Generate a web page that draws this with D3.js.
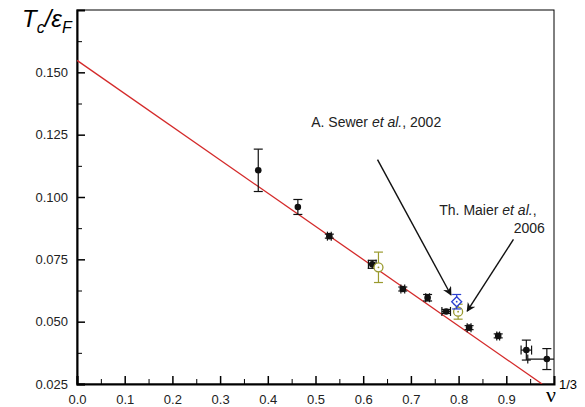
<html>
<head>
<script src="https://d3js.org/d3.v7.min.js"></script>
<style>
body { margin: 0; background: white; }
text { font-family: "Liberation Sans", Arial, sans-serif; }
</style>
</head>
<body>
<svg id="chart" width="585" height="407"></svg>
<script>
// measured points (nu^(1/3), Tc/eF)
var nu    = [0.380, 0.463, 0.529, 0.619, 0.683, 0.735, 0.774, 0.822, 0.883, 0.942, 0.985];
var tc    = [0.1107, 0.0960, 0.0843, 0.0730, 0.0631, 0.0596, 0.0541, 0.0476, 0.0443, 0.0386, 0.0350];
var tcErr = [0.0085, 0.0030, 0.0008, 0.0016, 0.0008, 0.0013, 0.0008, 0.0008, 0.0008, 0.0040, 0.0042];
var nuErr = [0, 0, 0.004, 0.008, 0.004, 0.004, 0.009, 0.004, 0.003, 0.011, 0.040];

// Maier et al. (olive) and Sewer et al. (blue)
var maierNu = [0.632, 0.799];
var maierTc = [0.0718, 0.0540];
var maierErr = [0.0061, 0.0030];
var sewerNu = [0.796];
var sewerTc = [0.0580];
var sewerErr = [0.0029];

// linear fit
var fitNu = [0, 0.975];
var fitTc = [0.1548, 0.025];

var xTicks = [0, 0.1, 0.2, 0.3, 0.4, 0.5, 0.6, 0.7, 0.8, 0.9];
var xTickLabels = ["0.0","0.1","0.2","0.3","0.4","0.5","0.6","0.7","0.8","0.9"];
var yTicks = [0.025, 0.05, 0.075, 0.1, 0.125, 0.15];
var yTickLabels = ["0.025","0.050","0.075","0.100","0.125","0.150"];

function draw() {
  var mLeft = 77, mRight = 554, mTop = 10, mBottom = 384;
  var x = d3.scaleLinear().domain([0, 1]).range([mLeft, mRight]);
  var y = d3.scaleLinear().domain([0.025, 0.175]).range([mBottom, mTop]);

  var svg = d3.select("#chart");

  svg.append("clipPath").attr("id", "clip")
    .append("rect").attr("x", mLeft).attr("y", mTop)
    .attr("width", mRight - mLeft).attr("height", mBottom - mTop);

  // frame
  svg.append("rect")
    .attr("x", mLeft).attr("y", mTop)
    .attr("width", mRight - mLeft).attr("height", mBottom - mTop)
    .attr("fill", "none").attr("stroke", "black").attr("stroke-width", 1);

  // axes (ticks pointing inward)
  var xMinor = d3.range(0.05, 1.0, 0.1);
  svg.append("g")
    .attr("transform", "translate(0," + mBottom + ")")
    .call(d3.axisTop(x).tickValues(xMinor).tickSize(5).tickFormat(""))
    .call(function(g) { g.select(".domain").remove(); });
  var xg = svg.append("g")
    .attr("transform", "translate(0," + mBottom + ")")
    .call(d3.axisTop(x).tickValues(xTicks).tickSize(8).tickFormat(function(d, i) { return xTickLabels[i]; }));
  xg.select(".domain").attr("stroke-width", 2);
  xg.selectAll("line").attr("stroke-width", 1.5);
  xg.selectAll("text").attr("y", 15).attr("dy", "0.35em")
    .style("font-size", "13px").attr("fill", "#222")
    .style("font-family", "'Liberation Sans', Arial, sans-serif");

  var yMinor = d3.range(0.0375, 0.175, 0.025);
  svg.append("g")
    .attr("transform", "translate(" + mLeft + ",0)")
    .call(d3.axisRight(y).tickValues(yMinor).tickSize(5).tickFormat(""))
    .call(function(g) { g.select(".domain").remove(); });
  var yg = svg.append("g")
    .attr("transform", "translate(" + mLeft + ",0)")
    .call(d3.axisRight(y).tickValues(yTicks).tickSize(8).tickFormat(function(d, i) { return yTickLabels[i]; }));
  yg.select(".domain").attr("stroke-width", 2);
  yg.selectAll("line").attr("stroke-width", 1.5);
  yg.selectAll("text").attr("x", -9).attr("text-anchor", "end")
    .style("font-size", "13px").attr("fill", "#222")
    .style("font-family", "'Liberation Sans', Arial, sans-serif");

  // axis titles
  var yt = svg.append("text").attr("x", 22).attr("y", 27)
    .style("font-size", "24px").attr("font-style", "italic");
  yt.append("tspan").text("T");
  yt.append("tspan").text("c").style("font-size", "16px").attr("dy", 6);
  yt.append("tspan").text("/ε").attr("dy", -6);
  yt.append("tspan").text("F").style("font-size", "16px").attr("dy", 6);

  svg.append("text").attr("x", 546).attr("y", 402)
    .style("font-size", "22px").style("font-family", "'Liberation Serif', serif").text("ν");
  svg.append("text").attr("x", 559).attr("y", 389)
    .style("font-size", "13px").text("1/3");

  var plot = svg.append("g").attr("clip-path", "url(#clip)");

  // fit line
  var line = d3.line().x(function(d) { return x(d[0]); }).y(function(d) { return y(d[1]); });
  plot.append("path")
    .datum(d3.zip(fitNu, fitTc))
    .attr("d", line)
    .attr("fill", "none").attr("stroke", "#d42a2a").attr("stroke-width", 1.3);

  // error bars helper
  function errBars(g, xs, ys, ey, ex, color) {
    xs.forEach(function(v, i) {
      var cx = x(v), cy = y(ys[i]);
      var cap = 4.5;
      if (ey[i] > 0) {
        var y1 = y(ys[i] + ey[i]), y2 = y(ys[i] - ey[i]);
        g.append("line").attr("x1", cx).attr("x2", cx).attr("y1", y1).attr("y2", y2)
          .attr("stroke", color).attr("stroke-width", 1.2);
        [y1, y2].forEach(function(yy) {
          g.append("line").attr("x1", cx - cap).attr("x2", cx + cap).attr("y1", yy).attr("y2", yy)
            .attr("stroke", color).attr("stroke-width", 1.2);
        });
      }
      if (ex && ex[i] > 0) {
        var x1 = x(v - ex[i]), x2 = x(v + ex[i]);
        g.append("line").attr("x1", x1).attr("x2", x2).attr("y1", cy).attr("y2", cy)
          .attr("stroke", color).attr("stroke-width", 1.2);
        [x1, x2].forEach(function(xx) {
          g.append("line").attr("x1", xx).attr("x2", xx).attr("y1", cy - cap).attr("y2", cy + cap)
            .attr("stroke", color).attr("stroke-width", 1.2);
        });
      }
    });
  }

  var olive = "#9a9a2e", blue = "#2a3fd0";

  errBars(plot, nu, tc, tcErr, nuErr, "#111");
  plot.selectAll(".pt").data(d3.zip(nu, tc)).enter().append("circle")
    .attr("cx", function(d) { return x(d[0]); })
    .attr("cy", function(d) { return y(d[1]); })
    .attr("r", 3.3).attr("fill", "#111");

  errBars(plot, maierNu, maierTc, maierErr, null, olive);
  var mz = plot.selectAll(".maier").data(d3.zip(maierNu, maierTc)).enter().append("g")
    .attr("transform", function(d) { return "translate(" + x(d[0]) + "," + y(d[1]) + ")"; });
  mz.append("circle").attr("r", 4.5).attr("fill", "white").attr("stroke", olive).attr("stroke-width", 1.3);
  mz.append("circle").attr("r", 0.9).attr("fill", olive);

  errBars(plot, sewerNu, sewerTc, sewerErr, null, blue);
  var sz = plot.selectAll(".sewer").data(d3.zip(sewerNu, sewerTc)).enter().append("g")
    .attr("transform", function(d) { return "translate(" + x(d[0]) + "," + y(d[1]) + ")"; });
  sz.append("path").attr("d", "M0,-5L5,0L0,5L-5,0Z")
    .attr("fill", "white").attr("stroke", blue).attr("stroke-width", 1.3);
  sz.append("circle").attr("r", 0.9).attr("fill", blue);

  // annotations
  svg.append("defs").append("marker")
    .attr("id", "arrow").attr("viewBox", "0 0 10 10").attr("refX", 9).attr("refY", 5)
    .attr("markerWidth", 9).attr("markerHeight", 9).attr("markerUnits", "userSpaceOnUse")
    .attr("orient", "auto")
    .append("path").attr("d", "M0,0L10,5L0,10L3,5Z").attr("fill", "#111");

  var arrowsFrom = [[0.630, 0.115], [0.915, 0.083]];
  var arrowsTo = [[0.784, 0.0607], [0.818, 0.0542]];
  arrowsFrom.forEach(function(a, i) {
    svg.append("line")
      .attr("x1", x(a[0])).attr("y1", y(a[1]))
      .attr("x2", x(arrowsTo[i][0])).attr("y2", y(arrowsTo[i][1]))
      .attr("stroke", "#111").attr("stroke-width", 1.4).attr("marker-end", "url(#arrow)");
  });

  var t1 = svg.append("text").attr("x", x(0.491)).attr("y", y(0.128)).style("font-size", "14px").attr("fill", "#222");
  t1.append("tspan").text("A. Sewer ");
  t1.append("tspan").text("et al.").attr("font-style", "italic");
  t1.append("tspan").text(", 2002");

  var t2 = svg.append("text").attr("x", x(0.7595)).attr("y", y(0.0927)).style("font-size", "14px").attr("fill", "#222");
  t2.append("tspan").text("Th. Maier ");
  t2.append("tspan").text("et al.").attr("font-style", "italic");
  t2.append("tspan").text(",");
  svg.append("text").attr("x", x(0.981)).attr("y", y(0.0855)).style("font-size", "14px")
    .attr("fill", "#222").attr("text-anchor", "end").text("2006");
}
draw();
</script>
</body>
</html>
